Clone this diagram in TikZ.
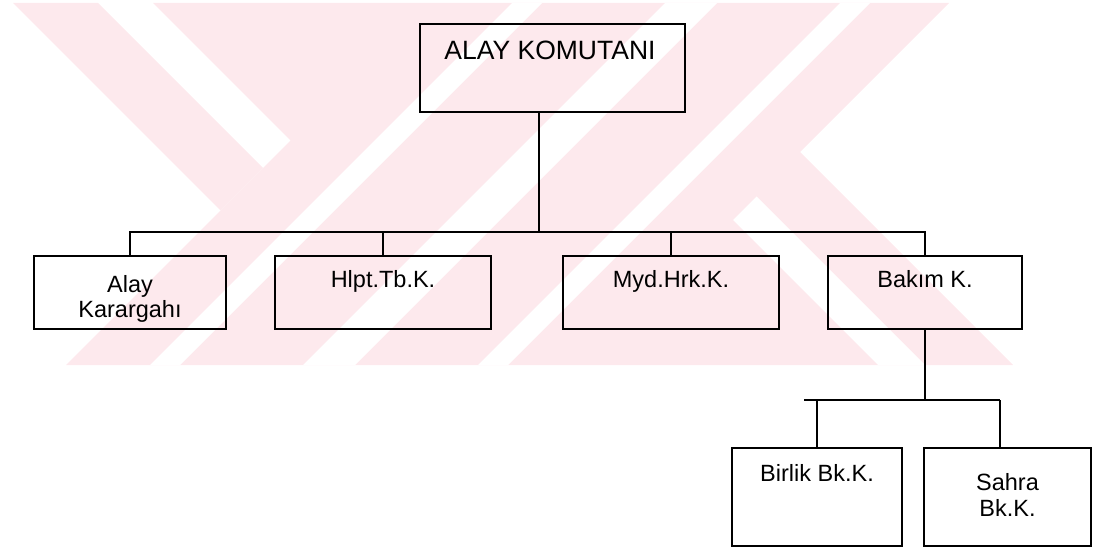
\documentclass[tikz,border=0pt]{standalone}
\usepackage{fontspec}
\setmainfont{Liberation Sans}
\definecolor{wmpink}{RGB}{253,233,237}
\tikzset{
  unit/.style={draw=black, line width=1.8pt, inner sep=0pt, rectangle},
  lbl/.style={anchor=base, inner sep=0pt, font=\fontsize{23.5}{25}\selectfont},
  toplbl/.style={anchor=base, inner sep=0pt, font=\fontsize{26.5}{28}\selectfont},
  link/.style={draw=black, line width=1.8pt}
}
\begin{document}
\begin{tikzpicture}[x=1pt, y=-1pt]
\useasboundingbox (0,0) rectangle (1097,548);

% faint background emblem
\fill[wmpink] (13,3) -- (98,3) -- (263,168) -- (220.5,210.5) -- cycle;
\fill[wmpink] (153,3) -- (949,3) -- (800,152) -- (1013,365) -- (66,365) -- (290.5,140.5) -- cycle;
\fill[white] (512,3) -- (542,3) -- (180,365) -- (150,365) -- cycle;
\fill[white] (665,3) -- (717,3) -- (355,365) -- (303,365) -- cycle;
\fill[white] (840,3) -- (870,3) -- (508,365) -- (478,365) -- cycle;
\fill[white] (733,220) -- (756.5,196.5) -- (925,365) -- (878,365) -- cycle;

% boxes
\node[unit, minimum width=265pt, minimum height=88pt] (top) at (552.5,68) {};
\node[unit, minimum width=192pt, minimum height=73pt] (alay) at (130,292.5) {};
\node[unit, minimum width=216pt, minimum height=73pt] (hlpt) at (383,292.5) {};
\node[unit, minimum width=216pt, minimum height=73pt] (myd) at (671,292.5) {};
\node[unit, minimum width=194pt, minimum height=73pt] (bakim) at (925,292.5) {};
\node[unit, minimum width=170pt, minimum height=98pt] (birlik) at (817,497) {};
\node[unit, minimum width=167pt, minimum height=98pt] (sahra) at (1007.5,497) {};

% labels
\node[toplbl] (topT) at (550,60) {ALAY KOMUTANI};
\node[lbl] (alayT1) at (130,292) {Alay};
\node[lbl] (alayT2) at (130,317) {Karargahı};
\node[lbl] (hlptT) at (383,287) {Hlpt.Tb.K.};
\node[lbl] (mydT) at (671,287) {Myd.Hrk.K.};
\node[lbl] (bakimT) at (925,287) {Bakım K.};
\node[lbl] (birlikT) at (817,481) {Birlik Bk.K.};
\node[lbl] (sahraT1) at (1007.5,490) {Sahra};
\node[lbl] (sahraT2) at (1007.5,516) {Bk.K.};

% connectors
\coordinate (bus) at (539,232);
\coordinate (sbL) at (804,400);
\coordinate (sbR) at (1000,400);
\draw[link] (top.south -| bus) -- (bus);
\draw[link] (alay.north) |- (bus);
\draw[link] (hlpt.north) |- (bus);
\draw[link] (myd.north) |- (bus);
\draw[link] (bakim.north) |- (bus);
\draw[link] (bakim.south) -- (bakim.south |- sbL);
\draw[link] (sbL) -- (sbR);
\draw[link] (birlik.north) -- (birlik.north |- sbL);
\draw[link] (sbR) -- (sbR |- sahra.north);
\end{tikzpicture}
\end{document}
